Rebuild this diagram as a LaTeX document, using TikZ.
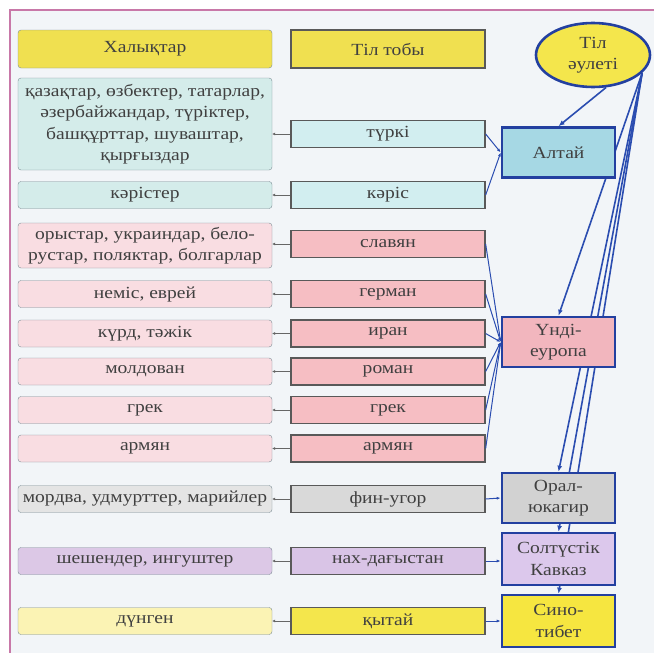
\documentclass[tikz,border=0pt]{standalone}
\usepackage{fontspec}
\setmainfont{Liberation Serif}[FakeStretch=1.15]
\usetikzlibrary{shapes.geometric,arrows.meta,backgrounds}
\definecolor{bgc}{HTML}{F2F5F8}
\definecolor{framec}{HTML}{C878A8}
\definecolor{hdry}{HTML}{F0E050}
\definecolor{cyA}{HTML}{D4ECEA}\definecolor{cyB}{HTML}{D2EEF0}\definecolor{cyC}{HTML}{A6D8E4}
\definecolor{pkA}{HTML}{F9DDE2}\definecolor{pkB}{HTML}{F6BEC3}\definecolor{pkC}{HTML}{F2B6BE}
\definecolor{gyA}{HTML}{E4E4E4}\definecolor{gyB}{HTML}{D9D9D9}\definecolor{gyC}{HTML}{D2D2D2}
\definecolor{lvA}{HTML}{DCC8E6}\definecolor{lvB}{HTML}{D9C4E6}\definecolor{lvC}{HTML}{DCC8EC}
\definecolor{ywA}{HTML}{FBF3B4}\definecolor{ywB}{HTML}{F4E64C}\definecolor{ywC}{HTML}{F6E640}
\definecolor{linkc}{HTML}{2B4DB0}
\definecolor{famc}{HTML}{2340A0}
\tikzset{txt/.style={text=black!75,font=\fontsize{17}{21.5}\selectfont,align=center,inner sep=1pt},
ppl/.style={txt,draw=black!40!cyan!30!gray,rounded corners=3pt,minimum width=254pt,minimum height=27pt},
grp/.style={txt,draw=black!65,line width=1.3pt,minimum width=194pt,minimum height=27pt},
fam/.style={txt,draw=famc,line width=2.6pt,minimum width=113pt,minimum height=50pt},
grpline/.style={black!60,line width=1pt,-{Latex[length=3pt,width=3pt]}},
famline/.style={linkc,line width=1pt,-{Latex[length=4pt,width=3pt]}},
ellline/.style={linkc,line width=1.6pt,-{Latex[length=6pt,width=5pt]}}}

\begin{document}
\begin{tikzpicture}[x=1pt,y=-1pt]
\useasboundingbox (0,0) rectangle (654,653);
% headers
\node[ppl,fill=hdry,minimum height=38pt] (h1) at (145,49) {Халықтар};
\node[grp,fill=hdry,minimum height=38pt] (h2) at (388,49) {Тіл тобы};
\node[txt,ellipse,draw=famc,line width=2.6pt,fill=ywB,minimum width=114pt,minimum height=64pt,inner sep=0pt] (ell) at (593,55) {Тіл\\әулеті};
% altai
\node[ppl,fill=cyA,minimum height=92pt] (p1) at (145,124) {қазақтар, өзбектер, татарлар,\\әзербайжандар, түріктер,\\башқұрттар, шуваштар,\\қырғыздар};
\node[grp,fill=cyB] (g1) at (388,134) {түркі};
\node[ppl,fill=cyA] (p2) at (145,195) {кәрістер};
\node[grp,fill=cyB] (g2) at (388,195) {кәріс};
\node[fam,fill=cyC] (f1) at (558.5,152.5) {Алтай};
% indo-european
\node[ppl,fill=pkA,minimum height=45pt] (p3) at (145,245.5) {орыстар, украиндар, бело-\\рустар, поляктар, болгарлар};
\node[grp,fill=pkB] (g3) at (388,244) {славян};
\node[ppl,fill=pkA] (p4) at (145,294) {неміс, еврей};
\node[grp,fill=pkB] (g4) at (388,294) {герман};
\node[ppl,fill=pkA] (p5) at (145,333.5) {күрд, тәжік};
\node[grp,fill=pkB] (g5) at (388,333.5) {иран};
\node[ppl,fill=pkA] (p6) at (145,371.5) {молдован};
\node[grp,fill=pkB] (g6) at (388,371.5) {роман};
\node[ppl,fill=pkA] (p7) at (145,410) {грек};
\node[grp,fill=pkB] (g7) at (388,410) {грек};
\node[ppl,fill=pkA] (p8) at (145,448.5) {армян};
\node[grp,fill=pkB] (g8) at (388,448.5) {армян};
\node[fam,fill=pkC] (f2) at (558.5,342) {Үнді-\\еуропа};
% the rest
\node[ppl,fill=gyA] (p9) at (145,499) {мордва, удмурттер, марийлер};
\node[grp,fill=gyB] (g9) at (388,499) {фин-угор};
\node[fam,fill=gyC] (f3) at (558.5,498) {Орал-\\юкагир};
\node[ppl,fill=lvA] (p10) at (145,561) {шешендер, ингуштер};
\node[grp,fill=lvB] (g10) at (388,561) {нах-дағыстан};
\node[fam,fill=lvC,minimum height=52pt] (f4) at (558.5,559) {Солтүстік\\Кавказ};
\node[ppl,fill=ywA] (p11) at (145,621) {дүнген};
\node[grp,fill=ywB] (g11) at (388,621) {қытай};
\node[fam,fill=ywC,minimum height=52pt] (f5) at (558.5,621) {Сино-\\тибет};

\begin{scope}[on background layer]
\fill[bgc] (10,10) rectangle (660,660);
\draw[framec,line width=1.4pt] (10,660) -- (10,10) -- (660,10);
\coordinate (src) at (ell.-20);
\draw[ellline] (ell.-68) -- (f1.north);
\foreach \f in {f2,f3,f4,f5} \draw[ellline] (src) -- (\f.north);
\end{scope}
\foreach \i in {1,...,11} \draw[grpline] (g\i.west) -- (g\i.west -| p\i.east);
\foreach \i in {1,2} \draw[famline] (g\i.east) -- (f1.west);
\foreach \i in {3,...,8} \draw[famline] (g\i.east) -- (f2.west);
\draw[famline] (g9.east) -- (f3.west);
\draw[famline] (g10.east) -- (g10.east -| f4.west);
\draw[famline] (g11.east) -- (f5.west);
\end{tikzpicture}
\end{document}
